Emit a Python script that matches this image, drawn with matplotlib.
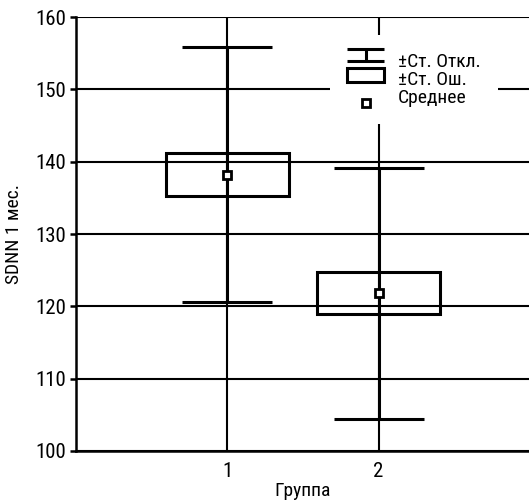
import os
import matplotlib
matplotlib.use("Agg")
import matplotlib.pyplot as plt
from matplotlib import font_manager as fm
from matplotlib.legend_handler import HandlerBase
from matplotlib.lines import Line2D
from matplotlib.patches import Rectangle

# data
groups = [1, 2]
group_labels = ["1", "2"]
means = [138.2, 121.8]
std_err = [2.95, 2.9]
std_dev = [17.6, 17.35]

# narrow sans: Liberation Sans Narrow if its file is there, else Roboto Condensed
files = [f.fname for f in fm.fontManager.ttflist]
narrow = [p for p in files
          if 'liberationsansnarrow' in os.path.basename(p).lower().replace('-', '').replace('_', '')
          and 'bold' not in os.path.basename(p).lower()
          and 'italic' not in os.path.basename(p).lower()]
if narrow:
    font = fm.FontProperties(fname=narrow[0])
else:
    font = fm.FontProperties(family=['Roboto Condensed', 'DejaVu Sans'])


def fp(size):
    p = font.copy()
    p.set_size(size)
    return p


class SDHandler(HandlerBase):
    def create_artists(self, legend, orig_handle, xdescent, ydescent,
                       width, height, fontsize, trans):
        x0, x1 = -xdescent, -xdescent + width
        xm = (x0 + x1) / 2
        top = -ydescent + 1.3 * height
        bot = -ydescent + 0.45 * height
        kw = dict(color='black', lw=2.2, transform=trans, solid_capstyle='butt')
        return [Line2D([x0, x1], [top, top], **kw),
                Line2D([xm, xm], [bot, top], **kw),
                Line2D([x0, x1], [bot, bot], **kw)]


class SEHandler(HandlerBase):
    def create_artists(self, legend, orig_handle, xdescent, ydescent,
                       width, height, fontsize, trans):
        x0 = -xdescent
        y0 = -ydescent + 0.2 * height
        r = Rectangle((x0, y0), width, 1.0 * height, fill=False,
                      edgecolor='black', lw=2.2, transform=trans)
        return [r]


class MeanHandler(HandlerBase):
    def create_artists(self, legend, orig_handle, xdescent, ydescent,
                       width, height, fontsize, trans):
        xm = -xdescent + width / 2
        ym = -ydescent - 0.05 * height
        return [Line2D([xm], [ym], marker='s', ms=6, mfc='white', mec='black',
                       mew=2, ls='none', transform=trans)]


fig = plt.figure(figsize=(5.29, 5.03), dpi=100)
ax = fig.add_axes([76 / 529, 52 / 503, 454 / 529, 434 / 503])

ax.set_xlim(0, 3)
ax.set_ylim(100, 160)
ax.set_xticks(groups)
ax.set_xticklabels(group_labels)
ax.set_yticks(range(100, 161, 10))
ax.grid(True, color='black', lw=1.5, zorder=0)
ax.set_axisbelow(True)

ax.bar(groups, [2 * s for s in std_err], bottom=[m - s for m, s in zip(means, std_err)],
       width=0.81, fill=False, edgecolor='black', lw=2.2, zorder=2)
ax.errorbar(groups, means, yerr=std_dev, fmt='none', ecolor='black',
            elinewidth=2.2, capsize=32.4, capthick=2.2, zorder=3)
ax.plot(groups, means, 's', ms=6, mfc='white', mec='black', mew=2, zorder=4)

for side in ['top', 'right']:
    ax.spines[side].set_visible(False)
for side in ['left', 'bottom']:
    ax.spines[side].set_linewidth(1.8)

ax.tick_params(axis='x', length=0, pad=8)
ax.tick_params(axis='y', length=4, width=1.8, pad=3)
for lbl in ax.get_xticklabels() + ax.get_yticklabels():
    lbl.set_fontproperties(fp(15))

ax.set_xlabel('Группа', fontproperties=fp(14), labelpad=1)
ax.set_ylabel('SDNN 1 мес.', fontproperties=fp(14), labelpad=9)

h_sd, h_se, h_mean = object(), object(), object()
leg = ax.legend([h_sd, h_se, h_mean], ['±Ст. Откл.', '±Ст. Ош.', 'Среднее'],
                handler_map={h_sd: SDHandler(), h_se: SEHandler(), h_mean: MeanHandler()},
                loc='upper left', bbox_to_anchor=(0.559, 0.958), prop=fp(14),
                frameon=True, fancybox=False, framealpha=1, edgecolor='white',
                handlelength=1.9, handletextpad=0.7, labelspacing=0.0,
                borderpad=0.9, borderaxespad=0)
leg.get_frame().set_linewidth(0)

fig.savefig('out.png', dpi=100)
